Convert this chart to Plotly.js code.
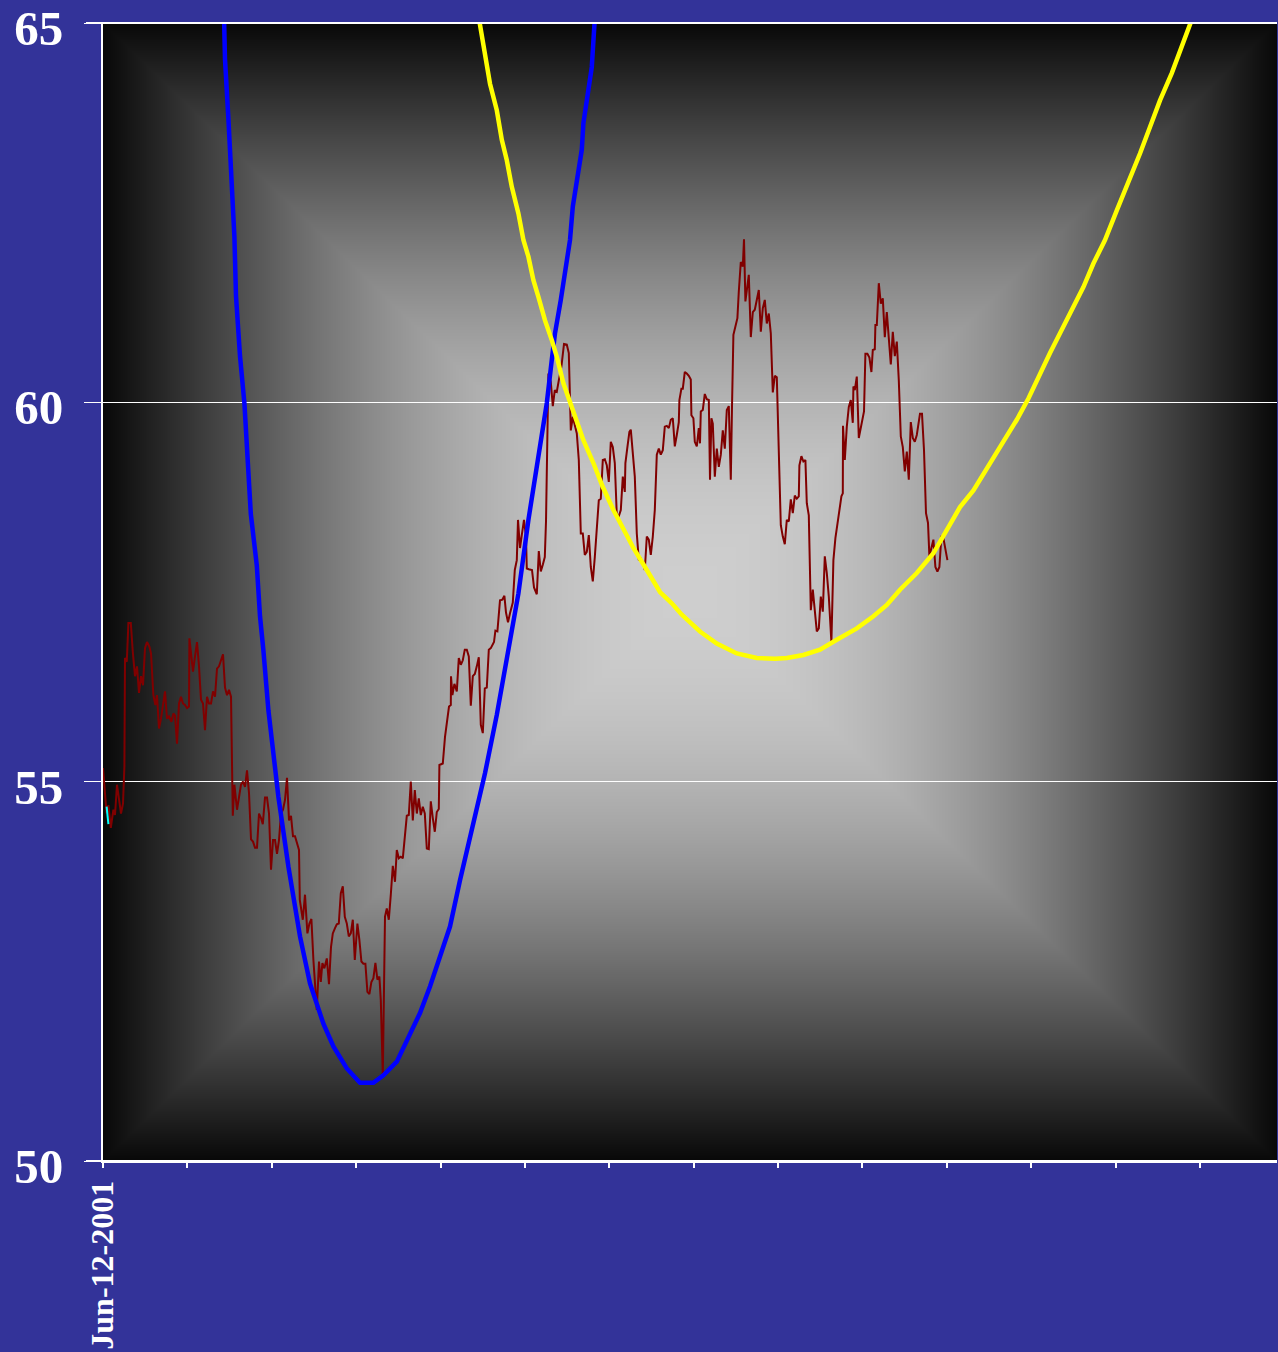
<!DOCTYPE html>
<html><head><meta charset="utf-8">
<script src="https://cdn.plot.ly/plotly-3.0.1.min.js"></script>
<style>html,body{margin:0;padding:0;background:#333399;}</style>
</head><body><div id="chart" style="width:1278px;height:1352px;"></div>
<script>
// trading days since Jun-12-2001 and closing values
const priceDays = [
0,1.8,2.7,3.9,5.2,6,7,8,9,10,
10.7,11,11.9,12.7,13.9,14.9,16,17,18,19,
20,21,22,23.2,24,25.2,26.2,27,28,29,
30,31,32,33,34.2,35.2,36,37,38,39,
40,41,42,43,43.2,45,46,47,48,49,
50,51,52,53,54,55,56,57,58,59,
60,61,62,63,64,64.9,65.7,67,68,69,
70,71,72,73,74,75,76,77,78,79,
79.9,81,82,83,84,85,86,87,88,89,
90,91,92,93,94,95,96,97,98,98.4,
99.9,101,102.2,103.2,104.2,105.2,106.9,108,108.9,109.7,
110.7,111.9,113,114,114.9,116,116.9,117.9,118.9,119.9,
120.9,121.9,122.9,123.9,124.9,125.9,127.2,128.2,129.2,130.2,
131.2,132.2,133.2,134.2,135.2,136.2,137.2,138.2,138.9,139.9,
141,141.9,142.9,143.9,144.9,146,146.9,147.9,148.9,149.9,
150.9,151.9,152.9,153.9,154.9,155.9,156.9,157.9,158.9,159.9,
160.9,161.9,162.9,163.9,164.9,165.9,166.9,167.9,168.2,169.9,
171,172.2,173,173.9,174,174.7,175.7,176.9,177.9,178.9,
179.9,180.9,181.9,182.9,183.9,184.9,185.9,186.9,187.9,188.9,
189.9,190.9,191.9,192.9,193.9,195.5,196.2,197.2,198.5,199.7,
200.7,201.5,202.5,203.5,204.9,205.9,206.9,207.5,208.5,209.5,
210.5,211.5,211.9,212.9,214.5,215.5,216.9,217.9,218.9,219.9,
220.9,221.5,222.2,222.7,223.9,224.9,225.9,226.9,227.9,229.2,
230.5,231.9,232.9,233.5,233.9,234.9,236.9,237.9,238.9,239.9,
240.9,241.9,242.9,243.9,244.9,245.9,246.9,247.9,248.9,249.9,
250.9,251.9,252.9,253.9,254.9,255.9,256.9,257.9,258.9,259.9,
260.9,261.2,262.2,263.2,263.9,264.9,265.9,266.9,267.9,268.9,
269.9,270.9,271.9,272.9,273.9,274.9,275.9,276.9,277.9,278.9,
279.9,280.9,281.9,282.9,283.9,284.9,285.9,286.9,287.9,288.2,
289.2,289.9,290.9,291.9,292.9,293.9,294.2,295.2,295.9,296.9,
297.9,298.5,298.9,299.9,300.9,301.9,302.9,303.5,304.2,304.9,
305.9,306.9,307.9,308.9,309.9,310.9,311.9,312.9,313.9,314.5,
315.2,316.2,317.2,317.9,318.9,319.9,320.5,321.2,321.9,322.9,
323.9,324.9,325.9,326.9,327.9,328.9,329.9,330.9,331.9,332.9,
333.9,334.9,335.9,336.9,337.9,338.9,339.9,340.9,341.9,342.9,
343.9,344.9,345.9,346.9,347.9,348.2,349.2,350.2,351.2,351.9,
352.9,353.9,354.9,355.9,356.9,357.9,358.9,359.9,360.9,361.9,
362.9,364.2,365.2,366.2,367.2,368.2,369.2,369.9,370,370.9,
371.9,372.9,373.9,374.9,375.2,375.9,376.9,377.9,378.9,379.9,
380.5,381.2,382.2,383.2,384.2,384.9,385.9,386.2,386.9,387.9,
388.9,389.9,390.9,391.9,392.9,393.9,394.9,395.9,396.9,397.9,
398.9,399.9,400.9,401.9,402.9,403.9,404.9,405.9,406.9,407.9,
408.5,409.5,410.5,411.5,412.5,413.2,414.2,415.2,416.2,417.2,
418.2,419.2,420.2,421.2,422.2
];
const priceValues = [
55.18,54.58,54.69,54.39,54.63,54.56,54.96,54.76,54.58,54.71,
55.20,56.63,56.58,57.09,57.09,56.71,56.39,56.52,56.17,56.39,
56.27,56.76,56.84,56.78,56.69,56.14,56.01,56.14,55.70,55.83,
56.03,56.19,55.83,55.86,55.79,55.90,55.87,55.50,56.03,56.12,
56.03,56.01,55.97,55.99,56.89,56.45,56.65,56.84,56.52,56.08,
56.03,55.68,56.12,56.03,56.03,56.19,56.12,56.49,56.52,56.60,
56.68,56.24,56.14,56.21,56.12,54.55,54.96,54.63,54.78,54.96,
55.00,54.93,55.15,54.85,54.24,54.21,54.13,54.13,54.58,54.52,
54.44,54.79,54.79,54.58,53.84,54.23,54.23,54.05,54.23,54.58,
54.63,54.76,55.05,54.49,54.55,54.28,54.28,54.19,54.10,53.44,
53.18,53.51,53.00,53.13,53.19,52.65,51.99,52.63,52.36,52.61,
52.54,52.67,52.33,52.82,53.00,53.07,53.12,53.13,53.53,53.62,
53.22,53.13,52.96,53.00,53.18,52.65,53.13,52.91,52.63,52.60,
52.60,52.23,52.20,52.36,52.41,52.61,52.39,52.43,52.12,51.13,
53.22,53.33,53.18,53.51,53.89,53.68,54.10,53.99,54.01,53.99,
54.25,54.55,54.56,55.00,54.49,54.89,54.58,54.78,54.56,54.67,
54.58,54.12,54.11,54.74,54.52,54.34,54.60,54.64,55.22,55.24,
55.59,55.86,55.99,56.01,56.39,56.14,56.29,56.19,56.63,56.54,
56.60,56.74,56.74,56.65,56.00,56.39,56.42,56.52,56.64,55.75,
55.64,56.23,56.24,56.74,56.76,56.84,56.99,56.98,57.39,57.40,
57.45,57.23,57.10,57.22,57.36,57.79,57.92,58.45,58.08,58.27,
58.45,58.23,57.81,57.80,57.79,57.56,57.47,58.04,57.77,57.86,
57.96,58.43,59.46,60.38,60.27,59.95,60.16,60.14,60.29,60.47,
60.77,60.76,60.65,60.07,59.63,59.81,59.59,59.24,58.27,58.27,
57.99,58.03,58.25,57.83,57.64,57.96,58.36,58.71,58.73,59.24,
59.25,59.17,58.95,59.48,59.41,59.20,58.51,58.50,58.58,59.02,
58.82,59.20,59.41,59.61,59.64,59.37,59.02,58.27,57.92,57.94,
57.88,57.79,58.23,58.19,57.99,58.23,58.58,59.31,59.39,59.31,
59.37,59.68,59.69,59.66,59.77,59.79,59.42,59.57,59.74,60.03,
60.18,60.18,60.40,60.38,60.35,60.30,59.83,59.79,59.48,59.42,
59.66,59.46,59.88,59.90,60.11,60.04,60.03,58.98,59.79,59.72,
59.02,59.39,59.15,59.31,59.63,59.39,59.90,59.95,58.98,59.94,
60.89,61.00,61.11,61.46,61.85,61.79,62.15,61.33,61.50,61.68,
60.86,61.19,61.22,61.37,61.48,60.93,61.24,61.35,61.04,61.17,
60.91,60.13,60.35,60.33,59.15,58.38,58.23,58.13,58.45,58.43,
58.72,58.54,58.77,58.73,58.76,59.17,59.29,59.22,59.24,58.67,
58.51,57.26,57.53,57.28,56.98,57.02,57.44,57.24,57.97,57.75,
57.44,56.84,57.92,58.21,58.41,58.62,58.76,58.80,59.69,59.24,
59.68,59.94,60.03,59.73,60.21,60.16,60.34,59.53,59.68,59.81,
59.88,60.64,60.64,60.59,60.40,60.69,60.70,61.02,61.02,61.57,
61.30,61.37,60.86,61.19,60.86,60.50,60.93,60.61,60.80,60.29,
59.55,59.41,59.09,59.35,58.98,59.74,59.53,59.48,59.57,59.72,
59.85,59.85,59.37,58.54,58.41,57.97,58.08,58.19,57.83,57.77,
57.83,58.24,58.21,58.05,57.92
];
// blue fitted curve
const blueDays = [60.5,61,62.7,64.4,65.7,66.5,68.5,70.7,71.9,73.9,76.9,78.5,80.2,82.7,87.7,92.7,98.5,103.5,110.2,115.2,121.9,128.5,135.2,140.2,146.9,152.7,158.5,163.5,168.5,173.5,178.5,187.7,191,196.9,201.9,207.7,212.7,217.7,221.9,224.4,226,228.9,231,233.5,234.9,236.9,239.4,240.2,241.9,244.4,246];
const blueValues = [65.09,64.52,63.74,62.96,62.18,61.40,60.61,59.99,59.36,58.53,57.85,57.18,56.73,55.94,54.80,53.88,52.96,52.34,51.81,51.51,51.22,51.03,51.03,51.13,51.31,51.64,51.95,52.30,52.69,53.09,53.70,54.76,55.11,55.88,56.65,57.48,58.45,59.33,59.99,60.56,60.91,61.35,61.70,62.14,62.58,62.89,63.33,63.68,63.98,64.42,65.10];
// yellow fitted curve
const yellowDays = [187.7,190.2,193.5,196.9,199.4,201.9,204.4,207.7,210.2,212.7,215.2,217.7,221,224.4,226.9,230.2,234.4,236.9,240.2,245.2,249.8,255.2,260.2,265.2,271.9,278.5,284.4,289.4,298.5,306.9,316.9,326.9,336,341.9,350.2,358.5,366.9,376.9,385.2,391.9,398.5,406.9,415.2,424.4,428.5,435.2,441,446.9,451.9,456.9,462.7,467.7,473.5,478.5,484.4,490.2,495.2,501,506.9,512.7,518.5,523.5,528.5,534.4,538.5,541.9,544.9];
const yellowValues = [65.10,64.73,64.20,63.85,63.46,63.19,62.84,62.49,62.14,61.92,61.61,61.39,61.08,60.82,60.60,60.25,59.94,59.72,59.50,59.20,58.89,58.58,58.32,58.08,57.79,57.50,57.35,57.20,56.98,56.82,56.69,56.63,56.62,56.63,56.67,56.74,56.87,57.02,57.18,57.33,57.53,57.75,58.01,58.45,58.62,58.84,59.09,59.33,59.55,59.77,60.05,60.34,60.65,60.91,61.22,61.52,61.83,62.14,62.53,62.89,63.28,63.63,63.98,64.34,64.64,64.86,65.08];
// short cyan series at the start
const cyanDays = [1.8, 2.7];
const cyanValues = [54.67, 54.44];

const xTickVals = [0];
const xTickText = ['Jun-12-2001'];
const yTickVals = [50, 55, 60, 65];
const yTickText = ['50', '55', '60', '65'];

const W = 1278, H = 1352;
const M = {l: 103, r: 1, t: 23, b: 191};
const PW = W - M.l - M.r, PH = H - M.t - M.b;

function makeBackground(w, h) {
  const c = document.createElement('canvas');
  c.width = w; c.height = h;
  const ctx = c.getContext('2d');
  const img = ctx.createImageData(w, h);
  const cx = w / 2, cy = h / 2;
  for (let y = 0; y < h; y++) {
    for (let x = 0; x < w; x++) {
      const t = Math.min(1, Math.max(Math.abs(x + 0.5 - cx) / cx, Math.abs(y + 0.5 - cy) / cy));
      const v = Math.round(8 + (198) * Math.cos(t * Math.PI / 2));
      const i = (y * w + x) * 4;
      img.data[i] = v; img.data[i + 1] = v; img.data[i + 2] = v; img.data[i + 3] = 255;
    }
  }
  ctx.putImageData(img, 0, 0);
  return c.toDataURL('image/png');
}

const serif = '"Liberation Serif", "Times New Roman", "DejaVu Serif", serif';
const extend = 17 / PW;

const traces = [
  {x: priceDays, y: priceValues, type: 'scatter', mode: 'lines', line: {color: '#800000', width: 2}, hoverinfo: 'skip'},
  {x: cyanDays, y: cyanValues, type: 'scatter', mode: 'lines', line: {color: '#00ffff', width: 2}, hoverinfo: 'skip'},
  {x: blueDays, y: blueValues, type: 'scatter', mode: 'lines', line: {color: '#0000ff', width: 4.5}, hoverinfo: 'skip'},
  {x: yellowDays, y: yellowValues, type: 'scatter', mode: 'lines', line: {color: '#ffff00', width: 4.5}, hoverinfo: 'skip'}
];

const layout = {
  width: W, height: H,
  margin: M,
  paper_bgcolor: '#333399',
  plot_bgcolor: 'rgba(0,0,0,0)',
  showlegend: false,
  xaxis: {
    range: [0, 587], fixedrange: true,
    tickmode: 'array', tickvals: xTickVals, ticktext: xTickText,
    ticks: 'outside', ticklen: 5, tickwidth: 2, tickcolor: '#ffffff',
    tickangle: -90,
    tickfont: {family: serif, size: 32, color: '#ffffff', weight: 'bold'},
    ticklabeloverflow: 'allow',
    showgrid: false, zeroline: false,
    showline: true, linecolor: '#ffffff', linewidth: 2,
    minor: {tickmode: 'linear', tick0: 0, dtick: 42.19, ticks: 'outside', ticklen: 5, tickwidth: 2, tickcolor: '#ffffff', showgrid: false}
  },
  yaxis: {
    range: [50, 65], fixedrange: true,
    tickmode: 'array', tickvals: yTickVals, ticktext: yTickText,
    ticks: 'outside', ticklen: 17, tickwidth: 1, tickcolor: '#ffffff',
    ticklabelstandoff: 11,
    ticklabelshift: 5,
    ticklabeloverflow: 'allow',
    tickfont: {family: serif, size: 49, color: '#ffffff', weight: 'bold'},
    showgrid: true, gridcolor: '#ffffff', gridwidth: 1,
    zeroline: false,
    showline: true, linecolor: '#ffffff', linewidth: 2
  },
  images: [{
    source: makeBackground(PW, PH),
    xref: 'paper', yref: 'paper', x: 0, y: 1, sizex: 1, sizey: 1,
    xanchor: 'left', yanchor: 'top', sizing: 'stretch', layer: 'below'
  }],
  shapes: [
    {type: 'line', xref: 'paper', yref: 'paper', x0: -extend, x1: 1, y0: 1, y1: 1, line: {color: '#ffffff', width: 2}},
    {type: 'line', xref: 'paper', yref: 'paper', x0: -extend, x1: 1, y0: 0, y1: 0, line: {color: '#ffffff', width: 2}}
  ]
};

Plotly.newPlot('chart', traces, layout, {displayModeBar: false, staticPlot: true});
</script>
</body></html>
